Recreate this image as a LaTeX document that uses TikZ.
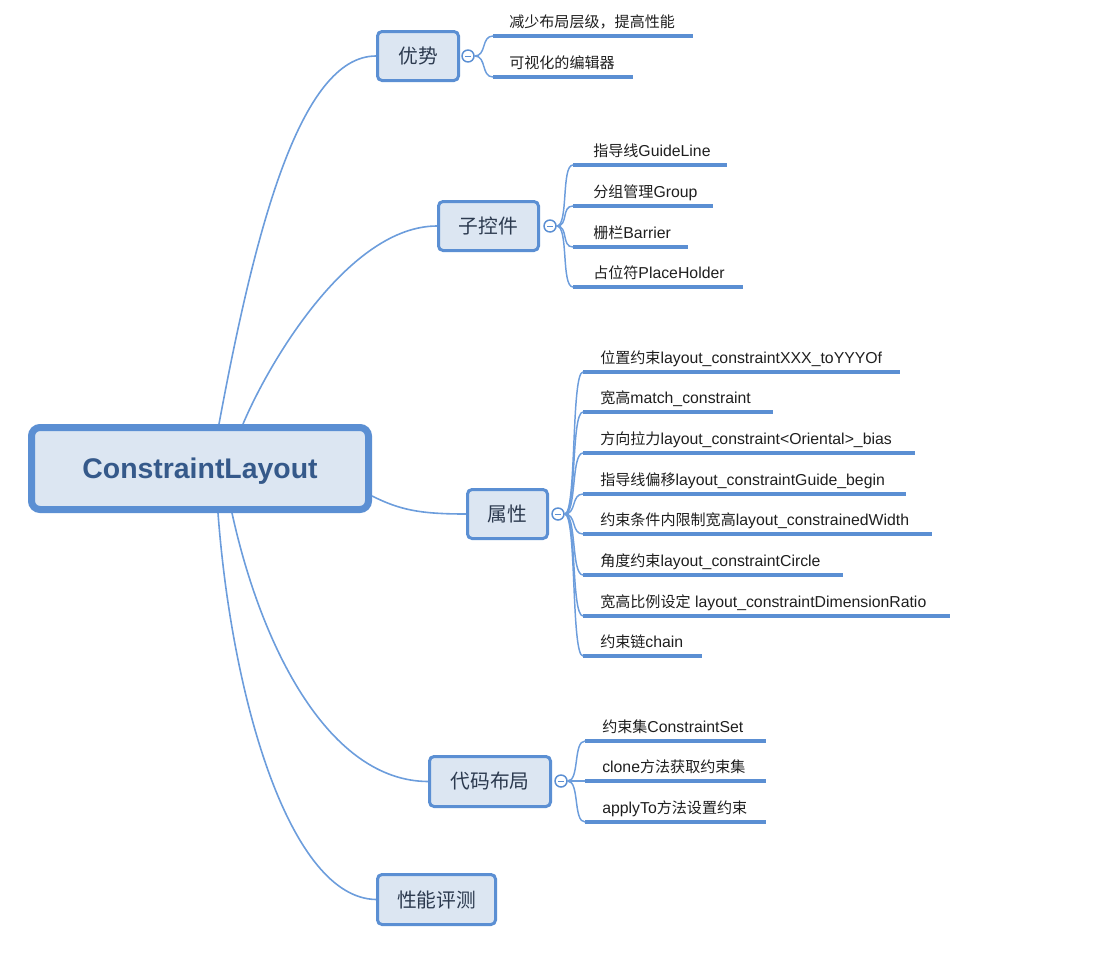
\documentclass[tikz,border=0pt]{standalone}
\usepackage{fontspec}
\setmainfont{Liberation Sans}[Scale=1.05]
\newfontfamily\cjk{Noto Sans CJK SC}

\definecolor{boxfill}{HTML}{DCE6F2}
\definecolor{boxline}{HTML}{5B8FD3}
\definecolor{conn}{HTML}{6C9DDC}
\definecolor{roottext}{HTML}{35598A}
\definecolor{boxtext}{HTML}{2C3A4F}
\definecolor{leaftext}{HTML}{1E1E1E}

\newcommand\leafitem[7]{%
  \coordinate (#1s) at (#2,#3);
  \coordinate (#1e) at (#4,#3);
  \node[leaf] (#1) at (#5,#3-9) {#6};
  \draw[uline] (#1s) -- (#1e);
  \draw[branch] (#7.east) .. controls +(12,0) and +(-12,0) .. (#1s);
}

\begin{document}
\begin{tikzpicture}[x=0.75pt,y=-0.75pt,
  rootbox/.style={draw=boxline, fill=boxfill, line width=5.25pt, rounded corners=6.4pt,
    minimum width=252.75pt, minimum height=61.5pt, inner sep=0pt, text depth=0pt,
    font=\fontsize{20.3pt}{24pt}\selectfont\bfseries, text=roottext},
  topic/.style={draw=boxline, fill=boxfill, line width=2.25pt, rounded corners=3.4pt,
    minimum height=36.75pt, inner sep=0pt,
    font=\cjk\fontsize{14.8pt}{17pt}\selectfont, text=boxtext},
  leaf/.style={anchor=base west, inner sep=0pt, text=leaftext,
    font=\fontsize{11.3pt}{13pt}\selectfont},
  uline/.style={draw=boxline, line width=3pt},
  branch/.style={draw=conn, line width=1.1pt},
  conn/.style={draw=conn, line width=1.2pt},
  collapse/.style={circle, draw=boxline, fill=white, line width=1.1pt, minimum size=9pt, inner sep=0pt,
    path picture={\draw[boxline, line width=0.7pt] ([xshift=-2.2pt]path picture bounding box.center) -- ([xshift=2.2pt]path picture bounding box.center);}}
]
\useasboundingbox (0,0) rectangle (1099,960);

% main nodes
\node[rootbox] (root) at (200,468.5) {ConstraintLayout};
\node[topic, minimum width=60.75pt] (adv) at (418,56) {优势};
\node[topic, minimum width=75pt] (sub) at (488.5,226) {子控件};
\node[topic, minimum width=60pt] (attr) at (507.5,514) {属性};
\node[topic, minimum width=90.75pt, minimum height=37.5pt] (code) at (490,781.5) {代码布局};
\node[topic, minimum width=88.5pt, minimum height=37.5pt] (perf) at (436.5,899.5) {性能评测};

% collapse markers
\node[collapse] (cadv) at (468,56) {};
\node[collapse] (csub) at (550,226) {};
\node[collapse] (cattr) at (558,514) {};
\node[collapse] (ccode) at (561,781) {};

% root connectors
\draw[conn] ([xshift=14.25pt]root.north) .. controls (255,230) and (300,56) .. (adv.west);
\draw[conn] ([xshift=32.25pt]root.north) .. controls (270,360) and (350,226) .. (sub.west);
\draw[conn] ([yshift=-20.6pt]root.east) .. controls (400,510) and (420,514) .. (attr.west);
\draw[conn] ([xshift=24pt]root.south) .. controls (262,650) and (330,781) .. (code.west);
\draw[conn] ([xshift=13.5pt]root.south) .. controls (232,700) and (290,898) .. (perf.west);

% leaves of 优势
\leafitem{a1}{493}{36}{693}{509}{{\cjk 减少布局层级，提高性能}}{cadv}
\leafitem{a2}{493}{77}{633}{509}{{\cjk 可视化的编辑器}}{cadv}

% leaves of 子控件
\leafitem{b1}{573}{165}{727}{593}{{\cjk 指导线}GuideLine}{csub}
\leafitem{b2}{573}{206}{713}{593}{{\cjk 分组管理}Group}{csub}
\leafitem{b3}{573}{247}{688}{593}{{\cjk 栅栏}Barrier}{csub}
\leafitem{b4}{573}{287}{743}{593}{{\cjk 占位符}PlaceHolder}{csub}

% leaves of 属性
\leafitem{p1}{583}{372}{900}{600}{{\cjk 位置约束}layout\_constraintXXX\_toYYYOf}{cattr}
\leafitem{p2}{583}{412}{773}{600}{{\cjk 宽高}match\_constraint}{cattr}
\leafitem{p3}{583}{453}{915}{600}{{\cjk 方向拉力}layout\_constraint<Oriental>\_bias}{cattr}
\leafitem{p4}{583}{494}{906}{600}{{\cjk 指导线偏移}layout\_constraintGuide\_begin}{cattr}
\leafitem{p5}{583}{534}{932}{600}{{\cjk 约束条件内限制宽高}layout\_constrainedWidth}{cattr}
\leafitem{p6}{583}{575}{843}{600}{{\cjk 角度约束}layout\_constraintCircle}{cattr}
\leafitem{p7}{583}{616}{950}{600}{{\cjk 宽高比例设定} layout\_constraintDimensionRatio}{cattr}
\leafitem{p8}{583}{656}{702}{600}{{\cjk 约束链}chain}{cattr}

% leaves of 代码布局
\leafitem{k1}{585}{741}{766}{602}{{\cjk 约束集}ConstraintSet}{ccode}
\leafitem{k2}{585}{781}{766}{602}{clone{\cjk 方法获取约束集}}{ccode}
\leafitem{k3}{585}{822}{766}{602}{applyTo{\cjk 方法设置约束}}{ccode}
\end{tikzpicture}
\end{document}
